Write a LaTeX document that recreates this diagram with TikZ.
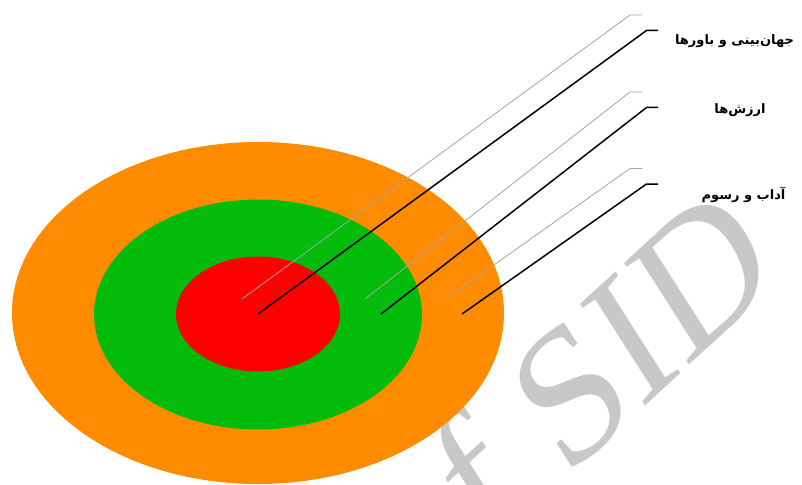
\documentclass[tikz,border=0pt]{standalone}
\usepackage{fontspec}
\TeXXeTstate=1
\newfontfamily\arabicfont[Script=Arabic]{DejaVu Sans}
\newfontfamily\wmfont{Liberation Serif}
\definecolor{ringorange}{RGB}{255,140,0}
\definecolor{ringgreen}{RGB}{3,187,10}
\definecolor{ringred}{RGB}{255,0,0}
\definecolor{wmgray}{RGB}{200,200,200}
\definecolor{shadowgray}{RGB}{165,165,165}
\tikzset{
  callout/.style={draw=black,line width=1.5pt},
  shadowline/.style={draw=shadowgray,line width=0.8pt},
  lbl/.style={font=\arabicfont\bfseries\fontsize{13}{15}\selectfont,inner sep=0pt,text=black},
}
\begin{document}
\begin{tikzpicture}[x=1pt,y=-1pt]
\useasboundingbox (0,0) rectangle (802,484);
\clip (0,0) rectangle (802,484);
\fill[white] (0,0) rectangle (802,484);
% watermark
\node[anchor=base west,inner sep=0pt,text=wmgray,font=\wmfont\fontsize{184}{184}\selectfont,
      cm={0.737,0.676,-0.539,0.843,(0,0)}] (wm) at (418,614) {of SID};
% rings
\fill[ringorange] (258,313) ellipse [x radius=246pt, y radius=171pt];
\fill[ringgreen] (258,314.5) ellipse [x radius=164pt, y radius=115pt];
\fill[ringred] (258,314) ellipse [x radius=82pt, y radius=57.5pt];
% coordinates
\coordinate (p1) at (258,314);
\coordinate (p2) at (381,314);
\coordinate (p3) at (462,314);
\coordinate (e1) at (646.5,30.5);
\coordinate (e2) at (646.5,107.5);
\coordinate (e3) at (646.5,184);
\coordinate (h1) at (658,30.5);
\coordinate (h2) at (658,107.5);
\coordinate (h3) at (658,184);
\coordinate (s1) at (242,299);
\coordinate (s2) at (365,299);
\coordinate (s3) at (446,299);
\coordinate (f1) at (630,15);
\coordinate (f2) at (630,92);
\coordinate (f3) at (630,168.5);
\coordinate (g1) at (642,15);
\coordinate (g2) at (642,92);
\coordinate (g3) at (642,168.5);
% shadow lines
\draw[shadowline] (s1) -- (f1) -- (g1);
\draw[shadowline] (s2) -- (f2) -- (g2);
\draw[shadowline] (s3) -- (f3) -- (g3);
% callouts
\draw[callout] (p1) -- (e1) -- (h1);
\draw[callout] (p2) -- (e2) -- (h2);
\draw[callout] (p3) -- (e3) -- (h3);
% labels
\node[lbl] (l1) at (734.5,41) {\beginR جهان‌بینی و باورها\endR};
\node[lbl] (l2) at (740,110.5) {\beginR ارزش‌ها\endR};
\node[lbl] (l3) at (743.5,195) {\beginR آداب و رسوم\endR};
\end{tikzpicture}
\end{document}
